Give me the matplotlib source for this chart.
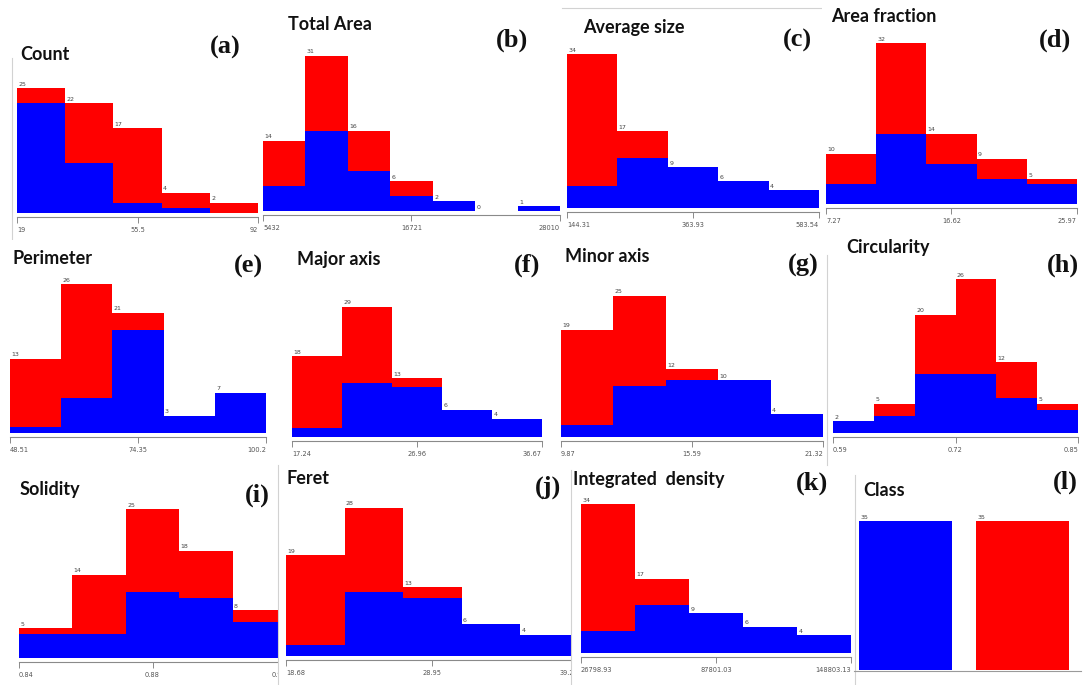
import numpy as np
import matplotlib.pyplot as plt

W, H = 1091, 685

# bin counts per attribute: total height and blue (class 1) part
count_total = [25, 22, 17, 4, 2]
count_blue = [22, 10, 2, 1, 0]
area_total = [14, 31, 16, 6, 2, 0, 1]
area_blue = [5, 16, 8, 3, 2, 0, 1]
avg_total = [34, 17, 9, 6, 4]
avg_blue = [5, 11, 9, 6, 4]
frac_total = [10, 32, 14, 9, 5]
frac_blue = [4, 14, 8, 5, 4]
perim_total = [13, 26, 21, 3, 7]
perim_blue = [1, 6, 18, 3, 7]
major_total = [18, 29, 13, 6, 4]
major_blue = [2, 12, 11, 6, 4]
minor_total = [19, 25, 12, 10, 4]
minor_blue = [2, 9, 10, 10, 4]
circ_total = [2, 5, 20, 26, 12, 5]
circ_blue = [2, 3, 10, 10, 6, 4]
solid_total = [5, 14, 25, 18, 8]
solid_blue = [4, 4, 11, 10, 6]
feret_total = [19, 28, 13, 6, 4]
feret_blue = [2, 12, 11, 6, 4]
intden_total = [34, 17, 9, 6, 4]
intden_blue = [5, 11, 9, 6, 4]
class_counts = [35, 35]

# attribute ranges and tick labels
count_range = (19, 92);            count_ticks = ["19", "55.5", "92"]
area_range = (5432, 28010);        area_ticks = ["5432", "16721", "28010"]
avg_range = (144.31, 583.54);      avg_ticks = ["144.31", "363.93", "583.54"]
frac_range = (7.27, 25.97);        frac_ticks = ["7.27", "16.62", "25.97"]
perim_range = (48.51, 100.2);      perim_ticks = ["48.51", "74.35", "100.2"]
major_range = (17.24, 36.67);      major_ticks = ["17.24", "26.96", "36.67"]
minor_range = (9.87, 21.32);       minor_ticks = ["9.87", "15.59", "21.32"]
circ_range = (0.59, 0.85);         circ_ticks = ["0.59", "0.72", "0.85"]
solid_range = (0.84, 0.92);        solid_ticks = ["0.84", "0.88", "0.92"]
feret_range = (18.68, 39.22);      feret_ticks = ["18.68", "28.95", "39.22"]
intden_range = (26798.93, 148803.13)
intden_ticks = ["26798.93", "87801.03", "148803.13"]

RED = "#ff0000"
BLUE = "#0000ff"
EDGE = "#d2d2d2"

fig = plt.figure(figsize=(W / 100, H / 100), dpi=100)


def rect(x0, y0, x1, y1):
    return [x0 / W, 1 - y1 / H, (x1 - x0) / W, (y1 - y0) / H]


def frame(box, edges=()):
    # white screenshot background; later panels cover overflow of earlier ones
    fr = fig.add_axes(rect(*box))
    fr.set_xticks([])
    fr.set_yticks([])
    for s in ["top", "right", "bottom", "left"]:
        fr.spines[s].set_visible(s in edges)
        fr.spines[s].set_color(EDGE)
    return fr


def hist_panel(box, edges, area, total, blue, rng, ticks):
    frame(box, edges)
    x0, yt, x1, yb = area
    ax = fig.add_axes(rect(x0, yt, x1, yb))
    ax.set_facecolor("none")
    total = np.array(total)
    blue = np.array(blue)
    lo, hi = rng
    n = len(total)
    w = (hi - lo) / n
    left = lo + w * np.arange(n)
    ax.bar(left, blue, width=w, align="edge", color=BLUE, linewidth=0)
    ax.bar(left, total - blue, bottom=blue, width=w, align="edge",
           color=RED, linewidth=0)
    for xl, t in zip(left, total):
        ax.annotate(str(t), (xl, t), xytext=(1, 1), textcoords="offset points",
                    fontsize=4.5, color="#444444", ha="left", va="bottom",
                    annotation_clip=False)
    ax.set_xlim(lo, hi)
    ax.set_ylim(0, total.max())
    for s in ["top", "right", "left"]:
        ax.spines[s].set_visible(False)
    ax.spines["bottom"].set_position(("outward", 3))
    ax.spines["bottom"].set_color("#8a8a8a")
    ax.spines["bottom"].set_linewidth(0.8)
    ax.set_yticks([])
    ax.set_xticks([lo, (lo + hi) / 2, hi])
    ax.set_xticklabels(ticks)
    ax.tick_params(axis="x", length=4, width=0.6, color="#777777",
                   labelsize=4.8, labelcolor="#555555", pad=3)
    lbls = ax.get_xticklabels()
    lbls[0].set_ha("left")
    lbls[-1].set_ha("right")
    return ax


# frame boxes, visible frame edges, plotting areas (x0, y_top, x1, y_base)
hist_panel((12, 58, 262, 240), ("left",), (17, 88.3, 258, 212.7),
           count_total, count_blue, count_range, count_ticks)
hist_panel((259, 0, 562, 240), (), (263, 55.7, 560, 211),
           area_total, area_blue, area_range, area_ticks)
hist_panel((562, 8, 822, 240), ("top",), (567, 54, 819, 208.3),
           avg_total, avg_blue, avg_range, avg_ticks)
hist_panel((822, 0, 1091, 240), (), (826, 43.3, 1077, 204),
           frac_total, frac_blue, frac_range, frac_ticks)

hist_panel((4, 240, 284, 465), (), (10, 284.3, 266, 432.7),
           perim_total, perim_blue, perim_range, perim_ticks)
hist_panel((285, 240, 554, 465), (), (292, 306.7, 542, 436.7),
           major_total, major_blue, major_range, major_ticks)
hist_panel((554, 240, 827, 465), (), (561, 295.7, 823, 436.7),
           minor_total, minor_blue, minor_range, minor_ticks)
hist_panel((827, 255, 1091, 465), ("left",), (833, 279.3, 1078, 433.3),
           circ_total, circ_blue, circ_range, circ_ticks)

hist_panel((14, 465, 278, 685), (), (19, 509.3, 286, 657.7),
           solid_total, solid_blue, solid_range, solid_ticks)
hist_panel((278, 465, 571, 685), ("left",), (286, 507.7, 578.5, 656),
           feret_total, feret_blue, feret_range, feret_ticks)
hist_panel((571, 470, 855, 685), ("left",), (581, 504.3, 851, 652.7),
           intden_total, intden_blue, intden_range, intden_ticks)

# class panel
frame((855, 475, 1091, 685), ("left",))
axl = fig.add_axes(rect(859, 521, 1069, 670))
axl.set_facecolor("none")
axl.bar([0, 1], class_counts, width=0.795, color=[BLUE, RED], linewidth=0)
for i, c in enumerate(class_counts):
    axl.annotate(str(c), (i - 0.3975, c), xytext=(1, 1),
                 textcoords="offset points", fontsize=4.5, color="#444444",
                 ha="left", va="bottom", annotation_clip=False)
axl.set_xlim(-0.3975, 1.3975)
axl.set_ylim(0, max(class_counts))
for s in ["top", "right", "left"]:
    axl.spines[s].set_visible(False)
axl.spines["bottom"].set_position(("outward", 1))
axl.spines["bottom"].set_color("#9a9a9a")
axl.spines["bottom"].set_bounds(-0.44, 1.5)
axl.set_xticks([])
axl.set_yticks([])

# titles
titles = ["Count", "Total Area", "Average size", "Area fraction",
          "Perimeter", "Major axis", "Minor axis", "Circularity",
          "Solidity", "Feret", "Integrated  density", "Class"]
title_pos = [(20, 55), (288, 25), (583, 27), (831, 16),
             (12, 258), (297, 259), (565, 257), (846, 247),
             (20, 489), (287, 478), (573, 479), (863, 490)]
letters = ["(a)", "(b)", "(c)", "(d)", "(e)", "(f)", "(g)", "(h)",
           "(i)", "(j)", "(k)", "(l)"]
letter_pos = [(225, 47), (512, 40), (797, 40), (1055, 40),
              (248, 266), (527, 265), (803, 265), (1063, 265),
              (257, 495), (548, 487), (812, 483), (1065, 482)]

for t, (x, y) in zip(titles, title_pos):
    fig.text(x / W, 1 - y / H, t, ha="left", va="center", fontsize=13,
             fontweight="bold", family="Lato", color="#111111")
for t, (x, y) in zip(letters, letter_pos):
    fig.text(x / W, 1 - y / H, t, ha="center", va="center", fontsize=19,
             fontweight="bold", family="Liberation Serif", color="#111111")

fig.savefig("out.png", dpi=100)
